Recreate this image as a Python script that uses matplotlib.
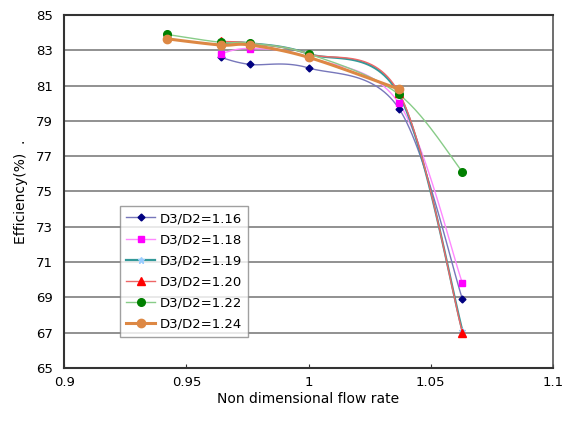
import numpy as np
import matplotlib
matplotlib.use('Agg')
import matplotlib.pyplot as plt

# values
x_full = [0.942, 0.964, 0.976, 1.0, 1.037, 1.063]
x_116 = [0.964, 0.976, 1.0, 1.037, 1.063]
eff_116 = [82.6, 82.2, 82.0, 79.7, 68.9]
eff_118 = [82.8, 83.1, 82.6, 80.0, 69.8]
eff_119 = [83.4, 83.4, 82.8, 80.5, 67.1]
eff_120 = [83.5, 83.4, 82.8, 80.6, 67.0]
eff_122 = [83.9, 83.45, 83.4, 82.8, 80.5, 76.1]
x_124 = [0.942, 0.964, 0.976, 1.0, 1.037]
eff_124 = [83.65, 83.3, 83.3, 82.6, 80.8]

labels = ['D3/D2=1.16', 'D3/D2=1.18', 'D3/D2=1.19',
          'D3/D2=1.20', 'D3/D2=1.22', 'D3/D2=1.24']


def smooth(x, y, n=30):
    # Excel-style smoothed line: cubic bezier with catmull-rom tangents
    p = np.column_stack([x, y]).astype(float)
    out = [p[0]]
    for i in range(len(p) - 1):
        p0 = p[i - 1] if i > 0 else p[i]
        p3 = p[i + 2] if i + 2 < len(p) else p[i + 1]
        c1 = p[i] + (p[i + 1] - p0) / 6
        c2 = p[i + 1] - (p3 - p[i]) / 6
        t = np.linspace(0, 1, n)[1:, None]
        seg = ((1 - t) ** 3 * p[i] + 3 * (1 - t) ** 2 * t * c1
               + 3 * (1 - t) * t ** 2 * c2 + t ** 3 * p[i + 1])
        out.extend(seg)
    out = np.array(out)
    return out[:, 0], out[:, 1]


series = [
    (x_116, eff_116, '#7777bb', 1.0, 'D', '#000080', 3.5, 4),
    (x_116, eff_118, '#ff88ff', 1.0, 's', '#ff00ff', 5, 4),
    (x_116, eff_119, '#339999', 1.6, '*', '#99ccff', 5, 3),
    (x_116, eff_120, '#ee6666', 1.0, '^', '#ff0000', 5.5, 4),
    (x_full, eff_122, '#88cc88', 1.0, 'o', '#008000', 5.5, 4),
    (x_124, eff_124, '#dd8844', 2.2, 'o', '#dd8844', 6, 4),
]

fig = plt.figure(figsize=(5.63, 4.22), dpi=100)
ax = fig.add_axes([0.114, 0.128, 0.868, 0.8365])

handles = []
for (xs, ys, lc, lw, mk, mc, ms, z), lab in zip(series, labels):
    sx, sy = smooth(xs, ys)
    ax.plot(sx, sy, color=lc, lw=lw, zorder=3)
    ax.plot(xs, ys, ls='none', marker=mk, color=mc, ms=ms, mec=mc, zorder=z)
    h, = ax.plot([], [], color=lc, lw=lw, marker=mk, mfc=mc, mec=mc, ms=ms)
    handles.append(h)

ax.set_xlim(0.9, 1.1)
ax.set_ylim(65, 85)
ax.set_xticks([0.9, 0.95, 1.0, 1.05, 1.1])
ax.set_xticklabels(['0.9', '0.95', '1', '1.05', '1.1'])
ax.set_yticks(range(65, 86, 2))
ax.yaxis.grid(True, color='#888888', lw=1.3)
ax.set_axisbelow(True)
ax.tick_params(axis='x', direction='in', length=3, labelsize=9.5, pad=6, color='#333333')
ax.tick_params(axis='y', length=0, labelsize=9.5, pad=8)
for side in ['left', 'bottom', 'top']:
    ax.spines[side].set_color('#333333')
    ax.spines[side].set_linewidth(1.5)
ax.spines['right'].set_color('#555555')
ax.spines['right'].set_linewidth(1.2)

ax.set_xlabel('Non dimensional flow rate', fontsize=10, labelpad=2)
ax.set_ylabel('Efficiency(%)  .', fontsize=10, labelpad=6)

leg = ax.legend(handles, labels, loc='lower left', bbox_to_anchor=(0.115, 0.088),
                fontsize=9.5, frameon=True, fancybox=False, handlelength=2.2,
                handletextpad=0.3, labelspacing=0.62, borderpad=0.45,
                borderaxespad=0)
leg.get_frame().set_edgecolor('#888888')
leg.get_frame().set_linewidth(1.0)

fig.savefig('out.png', dpi=100)
